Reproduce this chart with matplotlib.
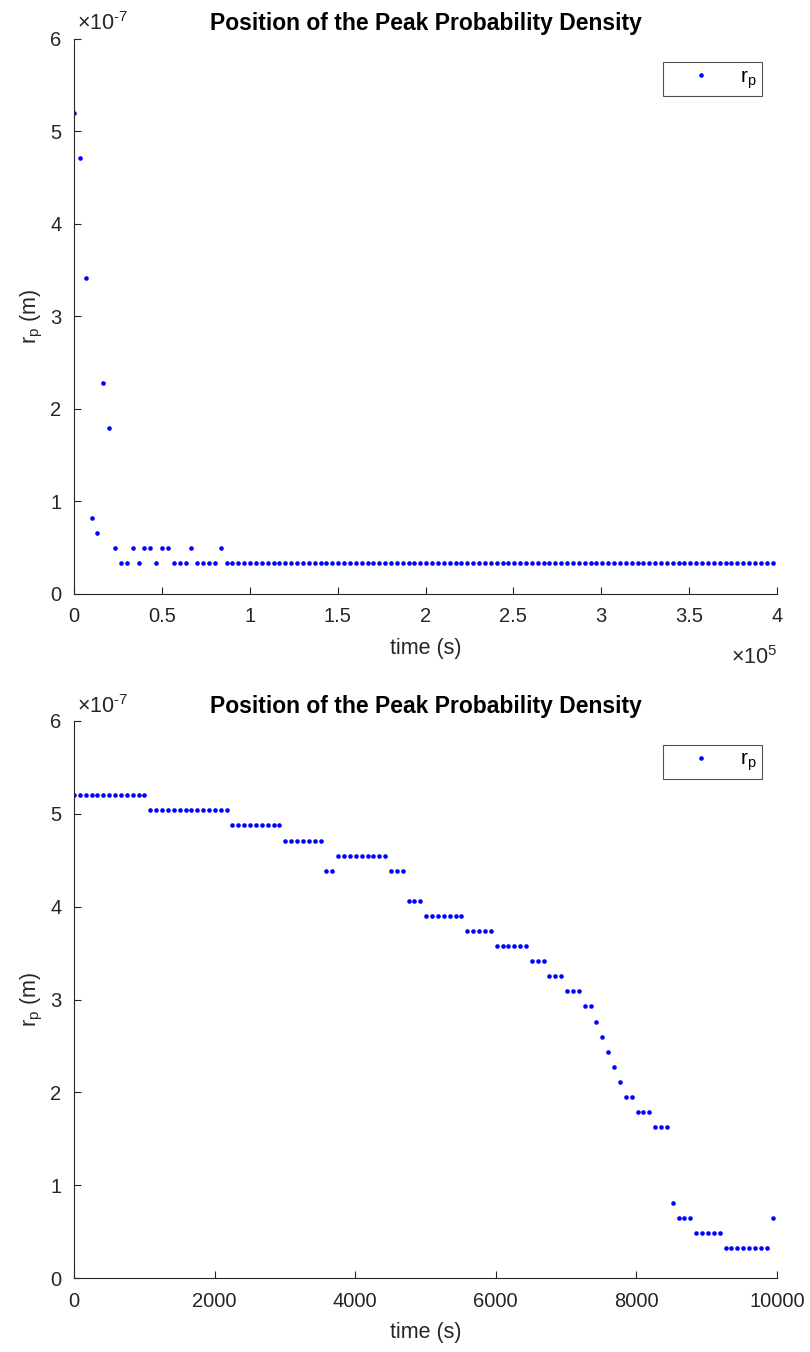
import numpy as np
import matplotlib
matplotlib.use("Agg")
import matplotlib.pyplot as plt
from matplotlib.ticker import FuncFormatter

plt.rcParams['font.family'] = ['Liberation Sans', 'DejaVu Sans']
plt.rcParams['mathtext.fontset'] = 'custom'
plt.rcParams['mathtext.rm'] = 'Liberation Sans'
plt.rcParams['mathtext.it'] = 'Liberation Sans'

# quantization step of the peak position (m)
dr = 1.625e-8

# ---- top panel: long run (every 40th sample) ----
top_dt = 3340.0  # s between plotted samples
top_levels = [32, 29, 21, 5, 4, 14, 11, 3, 2, 2, 3, 2, 3, 3, 2, 3, 3, 2, 2, 2,
              3, 2, 2, 2, 2, 3] + [2] * 94

# ---- bottom panel: first 10^4 s ----
bot_dt = 83.5  # s between samples
bot_levels = ([32] * 13 + [31] * 14 + [30] * 9 + [29] * 7 + [27] * 2 + [28] * 9 +
              [27] * 3 + [25] * 3 + [24] * 7 + [23] * 5 + [22] * 6 + [21] * 3 +
              [20] * 3 + [19] * 3 + [18] * 2 + [17, 16, 15, 14, 13] + [12] * 2 +
              [11] * 3 + [10] * 3 + [5] + [4] * 3 + [3] * 5 + [2] * 8 + [4])

top_t = np.arange(len(top_levels)) * top_dt
top_r = np.array(top_levels) * dr
bot_t = np.arange(len(bot_levels)) * bot_dt
bot_r = np.array(bot_levels) * dr

title = "Position of the Peak Probability Density"
xlabel = "time (s)"
ylabel = r"r$_\mathregular{p}$ (m)"
legend_label = r"r$_\mathregular{p}$"

fig = plt.figure(figsize=(8.1, 13.52), dpi=100)
W, H = 810, 1352

def make_ax(top_px, bot_px):
    l, r = 74, 777
    return fig.add_axes([l / W, 1 - bot_px / H, (r - l) / W, (bot_px - top_px) / H])

ax1 = make_ax(38.5, 593.5)
ax2 = make_ax(721, 1278)

axcol = '#262626'

def style(ax, t, r, xmax, xticks):
    ax.plot(t, r, linestyle='none', marker='o', markersize=3.3,
            markerfacecolor='#0000ff', markeredgewidth=0, label=legend_label)
    ax.set_xlim(0, xmax)
    ax.set_ylim(0, 6e-7)
    ax.set_xticks(xticks)
    ax.set_yticks(np.arange(0, 7) * 1e-7)
    ax.yaxis.set_major_formatter(FuncFormatter(lambda v, p: f'{v / 1e-7:g}'))
    for s in ['top', 'right']:
        ax.spines[s].set_visible(False)
    for s in ['left', 'bottom']:
        ax.spines[s].set_color(axcol)
        ax.spines[s].set_linewidth(0.8)
    ax.tick_params(direction='in', length=5, width=0.8, colors=axcol,
                   labelsize=14.5, labelcolor=axcol)
    ax.tick_params(axis='x', pad=10)
    ax.tick_params(axis='y', pad=9)
    ax.set_title(title, fontsize=16.5, fontweight='bold', pad=6)
    ax.set_xlabel(xlabel, fontsize=15.5, color=axcol, labelpad=8)
    ax.set_ylabel(ylabel, fontsize=15.5, color=axcol, labelpad=4)
    ax.text(0.004, 1.006, r'$\times\mathregular{10^{\text{-}7}}$', transform=ax.transAxes,
            ha='left', va='bottom', fontsize=15.5, color=axcol)
    leg = ax.legend(loc='upper right', bbox_to_anchor=(0.9787, 0.957),
                    borderaxespad=0, fontsize=15, frameon=True, fancybox=False,
                    handletextpad=0.35, borderpad=0.25, handlelength=3.1)
    leg.get_frame().set_edgecolor('#262626')
    leg.get_frame().set_linewidth(0.8)

style(ax1, top_t, top_r, 4e5, np.arange(0, 4.01e5, 0.5e5))
ax1.xaxis.set_major_formatter(FuncFormatter(lambda v, p: f'{v / 1e5:g}'))
ax1.text(1.0, -0.095, r'$\times\mathregular{10^{5}}$', transform=ax1.transAxes,
         ha='right', va='top', fontsize=15.5, color=axcol)

style(ax2, bot_t, bot_r, 10000, np.arange(0, 10001, 2000))

fig.savefig("out.png", dpi=100)
